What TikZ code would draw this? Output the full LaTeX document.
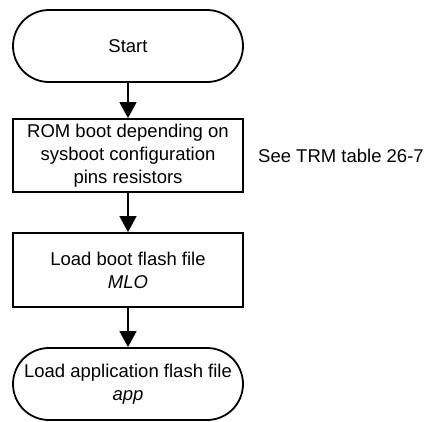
\documentclass[tikz,border=0pt]{standalone}
\usepackage{fontspec}
\setmainfont{Liberation Sans}
\usetikzlibrary{arrows.meta}

\definecolor{flowline}{RGB}{0,0,0}

\tikzset{
  stepbox/.style={draw, line width=1.8pt, minimum width=230pt, minimum height=74pt,
                  align=center, inner sep=0pt},
  terminal/.style={stepbox, minimum height=72pt, rounded corners=36pt},
  flow/.style={draw=flowline, fill=flowline, line width=1.4pt,
               -{Triangle[length=16pt,width=17pt]}},
}

\begin{document}
\begin{tikzpicture}[x=1pt, y=1pt, font=\fontsize{18.5}{23}\selectfont]
    \useasboundingbox (0,0) rectangle (426,-421);

    % the steps
    \node[terminal] (start) at (128,-46) {Start};
    \node[stepbox, minimum height=73pt] (rom) at (128,-155.5)
        {ROM boot depending on\\sysboot configuration\\pins resistors};
    \node[stepbox] (mlo) at (128,-270) {Load boot flash file\\\textit{MLO}};
    \node[terminal] (app) at (128,-384) {Load application flash file\\\textit{app}};

    \node[anchor=west, inner sep=0pt] (note) at (258,-155.5) {See TRM table 26-7};

    % connectors
    \path[flow] (start.south) -- (rom.north);
    \path[flow] (rom.south) -- (mlo.north);
    \path[flow] (mlo.south) -- (app.north);
\end{tikzpicture}
\end{document}
